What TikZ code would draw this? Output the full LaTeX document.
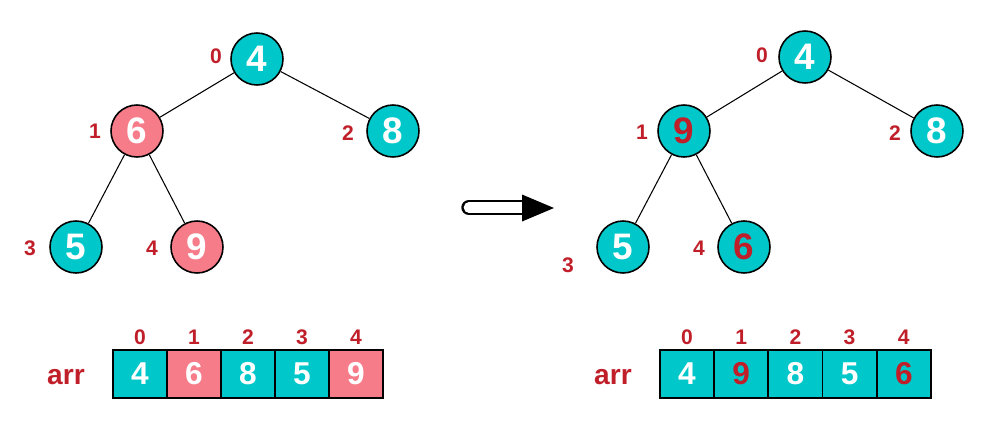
\documentclass[tikz,border=0pt]{standalone}
\usepackage{fontspec}
\setmainfont{Liberation Sans}
\usetikzlibrary{positioning,calc}

\definecolor{heapteal}{HTML}{00C8CA}
\definecolor{heappink}{HTML}{F77C8A}
\definecolor{idxred}{HTML}{C01F2A}

\tikzset{
  vertex/.style={circle,draw=black,line width=0.9pt,minimum size=1.04cm,inner sep=0pt,
    font=\fontsize{21}{21}\selectfont\bfseries,text=white},
  idx/.style={text=idxred,font=\fontsize{12}{12}\selectfont\bfseries},
  cell/.style={rectangle,draw=black,line width=0.9pt,minimum width=1.08cm,minimum height=0.96cm,
    inner sep=0pt,font=\fontsize{18}{18}\selectfont\bfseries,text=white},
  arrlabel/.style={text=idxred,font=\fontsize{16}{16}\selectfont\bfseries},
  edge/.style={line width=0.6pt}
}

\begin{document}
\begin{tikzpicture}[x=0.02cm,y=-0.02cm]
    \useasboundingbox (0,0) rectangle (984,420);

    % left tree
    \node[vertex,fill=heapteal] (l0) at (257,59) {4};
    \node[vertex,fill=heappink] (l1) at (137,131) {6};
    \node[vertex,fill=heapteal] (l2) at (393,131) {8};
    \node[vertex,fill=heapteal] (l3) at (76,247) {5};
    \node[vertex,fill=heappink] (l4) at (197,247) {9};

    \node[idx] (li0) at (216,56) {0};
    \node[idx] (li1) at (95,131) {1};
    \node[idx] (li2) at (348,133) {2};
    \node[idx] (li3) at (30,248) {3};
    \node[idx] (li4) at (152,248) {4};

    \draw[edge] (l0) -- (l1);
    \draw[edge] (l0) -- (l2);
    \draw[edge] (l1) -- (l3);
    \draw[edge] (l1) -- (l4);

    % right tree
    \node[vertex,fill=heapteal] (r0) at (805,57) {4};
    \node[vertex,fill=heapteal,text=idxred] (r1) at (684,131) {9};
    \node[vertex,fill=heapteal] (r2) at (937,131) {8};
    \node[vertex,fill=heapteal] (r3) at (623,247) {5};
    \node[vertex,fill=heapteal,text=idxred] (r4) at (744,247) {6};

    \node[idx] (ri0) at (762,55) {0};
    \node[idx] (ri1) at (642,132) {1};
    \node[idx] (ri2) at (895,133) {2};
    \node[idx] (ri3) at (568,265) {3};
    \node[idx] (ri4) at (699,248) {4};

    \draw[edge] (r0) -- (r1);
    \draw[edge] (r0) -- (r2);
    \draw[edge] (r1) -- (r3);
    \draw[edge] (r1) -- (r4);

    % arrow between the two trees
    \coordinate (as) at (469,207.5);
    \coordinate (ae) at (522,207.5);
    \draw[line width=1.4pt,double=white,double distance=6pt,line cap=round] (as) -- (ae);
    \fill (522,194.5) -- (554,208) -- (522,221.5) -- cycle;

    % arrays
    \node[arrlabel] (larr) at (66,377) {arr};
    \node[arrlabel] (rarr) at (613,377) {arr};
    \foreach \v/\c [count=\i from 0] in {4/heapteal,6/heappink,8/heapteal,5/heapteal,9/heappink} {
      \node[cell,fill=\c] (la\i) at (140+54*\i,374) {\v};
      \node[idx] at (140+54*\i,337) {\i};
    }
    \foreach \v/\t [count=\i from 0] in {4/white,9/idxred,8/white,5/white,6/idxred} {
      \node[cell,fill=heapteal,text=\t] (ra\i) at (687+54.2*\i,374) {\v};
      \node[idx] at (687+54.2*\i,337) {\i};
    }
\end{tikzpicture}
\end{document}
